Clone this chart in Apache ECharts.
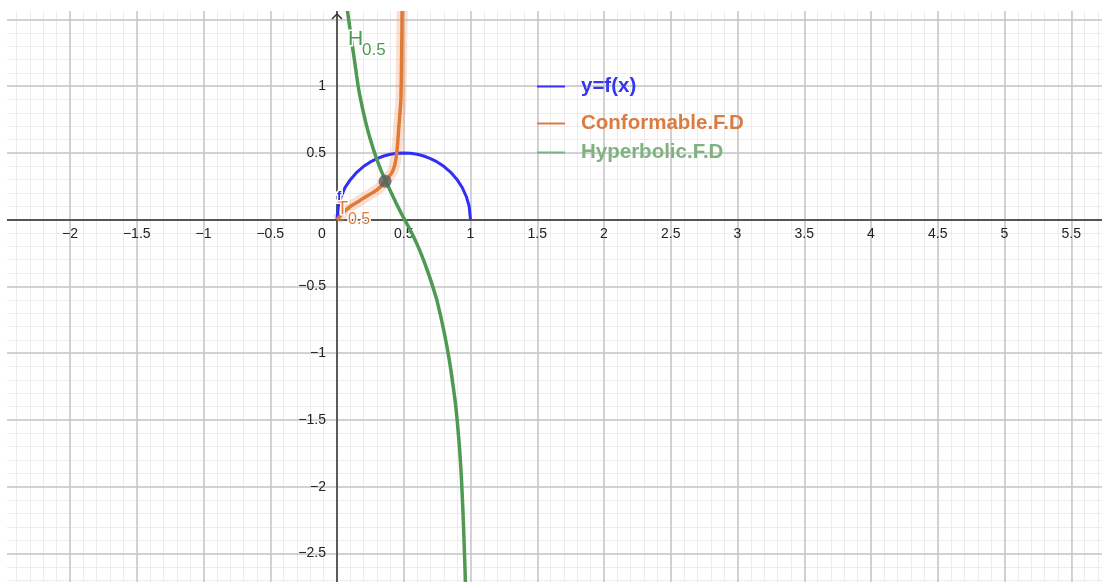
<!DOCTYPE html>
<html>
<head>
<meta charset="utf-8">
<script src="https://cdn.jsdelivr.net/npm/echarts@6/dist/echarts.min.js"></script>
<style>
  html, body { margin: 0; padding: 0; background: #fff; }
  #graph { width: 1102px; height: 582px; }
</style>
</head>
<body>
<div id="graph"></div>
<script>
// points, [x, y]
var semicircle = [
  [0, 0], [0.01, 0.1], [0.03, 0.17], [0.06, 0.24], [0.1, 0.3], [0.15, 0.357],
  [0.2, 0.4], [0.25, 0.433], [0.3, 0.458], [0.35, 0.477], [0.4, 0.49], [0.45, 0.497],
  [0.5, 0.5], [0.55, 0.497], [0.6, 0.49], [0.65, 0.477], [0.7, 0.458], [0.75, 0.433],
  [0.8, 0.4], [0.85, 0.357], [0.9, 0.3], [0.94, 0.237], [0.97, 0.17], [0.99, 0.1], [1, 0]
];
var conformable = [
  [0, 0], [0.05, 0.055], [0.097, 0.097], [0.15, 0.13], [0.2, 0.162], [0.25, 0.192],
  [0.297, 0.222], [0.33, 0.25], [0.36, 0.285], [0.39, 0.325], [0.41, 0.35], [0.425, 0.385],
  [0.437, 0.43], [0.447, 0.497], [0.455, 0.58], [0.462, 0.68], [0.472, 0.8], [0.479, 0.9],
  [0.484, 1.2], [0.489, 1.7]
];
var hyperbolic = [
  [0.06, 1.7], [0.075, 1.59], [0.097, 1.43], [0.13, 1.2], [0.16, 0.99], [0.19, 0.84],
  [0.22, 0.71], [0.25, 0.6], [0.29, 0.475], [0.33, 0.37], [0.365, 0.29], [0.4, 0.215],
  [0.445, 0.12], [0.48, 0.05], [0.507, 0], [0.56, -0.1], [0.6, -0.185], [0.634, -0.265],
  [0.684, -0.4], [0.72, -0.51], [0.75, -0.61], [0.8, -0.83], [0.841, -1.05], [0.884, -1.35],
  [0.9, -1.5], [0.917, -1.7], [0.93, -1.9], [0.944, -2.2], [0.955, -2.5], [0.963, -2.75]
];
var intersection = [[0.36, 0.288]];
var legendNames = ['y=f(x)', 'Conformable.F.D', 'Hyperbolic.F.D'];
var hiddenX = [-2.5, 6];
var hiddenY = [0, 1.5, 2, -3];

window.onload = function(){
  var myChart = echarts.init(document.getElementById('graph'));
  var labelFont = 'Liberation Sans';
  // 133.5 px per unit, origin at (337, 219.7)
  var big = { left: -400, top: -400, right: -400, bottom: -400 };

  function tickText(v, hidden){
    if (hidden.indexOf(v) >= 0) return '';
    return String(v).replace('-', '\u2212');
  }

  function legendOf(name, top, color){
    return {
      data: [name], left: 537, top: top, padding: 0,
      icon: 'rect', itemWidth: 28, itemHeight: 2,
      itemStyle: { color: color },
      textStyle: { color: color, fontSize: 20.5, fontWeight: 'bold', fontFamily: labelFont, padding: [0, 0, 0, 11] }
    };
  }

  function textEl(x, y, text, color, font){
    return { type: 'text', z: 60, x: x, y: y,
      style: { text: text, fill: color, font: font, verticalAlign: 'top', stroke: '#fff', lineWidth: 3 } };
  }

  // light 0.1 grid, drawn by a second pair of axes
  function minorAxis(min, max){
    return {
      type: 'value', min: min, max: max, interval: 0.1, z: 0,
      axisLine: { show: false }, axisTick: { show: false }, axisLabel: { show: false },
      splitLine: { lineStyle: { color: '#ececec', width: 1 } }
    };
  }

  var option = {
    animation: false,
    backgroundColor: '#fff',
    grid: { left: 3.25, right: -36, top: -47.3, bottom: -38.2, outerBounds: big },
    xAxis: [{
      type: 'value', min: -2.5, max: 6, interval: 0.5, z: 1,
      position: 'bottom', offset: -400.5,
      axisLine: { onZero: false, lineStyle: { color: '#555', width: 2 } },
      axisTick: { show: false },
      splitLine: { lineStyle: { color: '#c6c6c6', width: 1.5 } },
      axisLabel: {
        margin: 7, color: '#222', fontSize: 14, fontFamily: labelFont,
        formatter: function(v){
          if (v === 0) return '{o|0}';
          return tickText(v, hiddenX);
        },
        rich: { o: { color: '#222', fontSize: 14, fontFamily: labelFont, padding: [0, 30, 0, 0] } }
      }
    }, minorAxis(-2.5, 6)],
    yAxis: [{
      type: 'value', min: -3, max: 2, interval: 0.5, z: 1,
      position: 'left', offset: -333.75,
      axisLine: { onZero: false, lineStyle: { color: '#333', width: 1.5 } },
      axisTick: { show: false },
      splitLine: { lineStyle: { color: '#c6c6c6', width: 1.5 } },
      axisLabel: {
        margin: 11, color: '#222', fontSize: 14, fontFamily: labelFont,
        formatter: function(v){ return tickText(v, hiddenY); }
      }
    }, minorAxis(-3, 2)],
    legend: [
      legendOf(legendNames[0], 76, '#3535f2'),
      legendOf(legendNames[1], 113, '#dc7b40'),
      legendOf(legendNames[2], 142, '#7fb27f')
    ],
    series: [
      {
        type: 'line', data: conformable, smooth: 0.2, symbol: 'none', silent: true,
        lineStyle: { color: 'rgba(242,150,100,0.3)', width: 11 }
      },
      {
        name: legendNames[0], type: 'line', data: semicircle, symbol: 'none',
        color: '#2f2ff5', lineStyle: { width: 3 }
      },
      {
        name: legendNames[1], type: 'line', data: conformable, smooth: 0.2, symbol: 'none',
        color: '#e07a36', lineStyle: { width: 3.5 }
      },
      {
        name: legendNames[2], type: 'line', data: hyperbolic, smooth: 0.2, symbol: 'none',
        color: '#4e9a52', lineStyle: { width: 3.5 }
      },
      {
        type: 'scatter', data: intersection, symbolSize: 13, z: 5,
        itemStyle: { color: '#5c5c5c' }
      }
    ],
    graphic: [
      { type: 'rect', z: 50, shape: { x: 0, y: 0, width: 7, height: 582 }, style: { fill: '#fff' } },
      { type: 'rect', z: 50, shape: { x: 0, y: 0, width: 1102, height: 11 }, style: { fill: '#fff' } },
      { type: 'polyline', z: 60, shape: { points: [[332, 19], [337, 14], [342, 19]] },
        style: { stroke: '#333', lineWidth: 1.5, fill: null } },
      textEl(348, 29, 'H', '#4e9a52', '21px "Liberation Sans"'),
      textEl(362, 41.5, '0.5', '#4e9a52', '17px "Liberation Sans"'),
      textEl(337, 200.5, 'T', '#e07a36', '18px "Liberation Sans"'),
      textEl(348, 212, '0.5', '#e07a36', '16px "Liberation Sans"'),
      textEl(337, 190, 'f', '#2f2ff5', 'bold 13px "Liberation Sans"')
    ]
  };
  myChart.setOption(option);
};
</script>
</body>
</html>
